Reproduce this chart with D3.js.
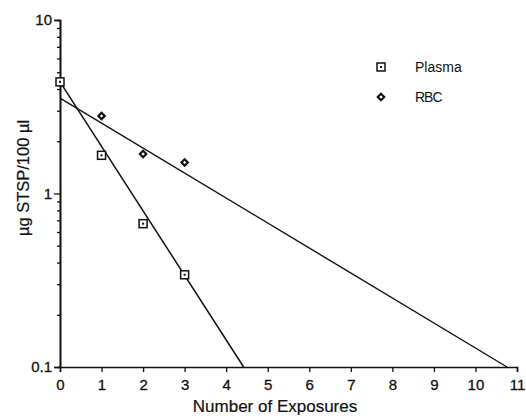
<!DOCTYPE html>
<html>
<head>
<meta charset="utf-8">
<script src="https://cdn.jsdelivr.net/npm/d3@7"></script>
<style>
  body { margin: 0; background: #fff; }
  text { font-family: "Liberation Sans", Arial, sans-serif; fill: #111; }
</style>
</head>
<body>
<svg id="chart" width="526" height="416"></svg>
<script>
// data
const exposures = [0, 1, 2, 3];
const plasma = [4.4, 1.66, 0.67, 0.34];
const rbcX = [1, 2, 3];
const rbc = [2.8, 1.69, 1.51];
// regression lines (endpoints)
const plasmaFit = [[0, 4.4], [4.42, 0.1]];
const rbcFit = [[0, 3.55], [10.76, 0.1]];
const xTicks = [0, 1, 2, 3, 4, 5, 6, 7, 8, 9, 10, 11];
const yTicks = [0.1, 1, 10];

const svg = d3.select('#chart');
const m_left = 60, m_right = 517, m_top = 20, m_bottom = 367;

const x = d3.scaleLinear().domain([0, 11]).range([m_left, m_right]);
const y = d3.scaleLog().domain([0.1, 10]).range([m_bottom, m_top]);

// axes
const xAxis = d3.axisBottom(x).tickValues(xTicks).tickSize(5).tickPadding(7).tickFormat(d3.format('d'));
svg.append('g').attr('transform', 'translate(0,' + m_bottom + ')').call(xAxis);

let minor = [];
for (let dec of [0.1, 1]) for (let k = 2; k <= 9; k++) minor.push(dec * k);
svg.append('g').attr('transform', 'translate(' + m_left + ',0)')
    .call(d3.axisLeft(y).tickValues(minor).tickSize(3).tickFormat(''));
svg.append('g').attr('transform', 'translate(' + m_left + ',0)')
    .call(d3.axisLeft(y).tickValues(yTicks).tickSize(6).tickPadding(2).tickFormat(d => d));

svg.selectAll('.domain').attr('stroke', '#111').attr('stroke-width', 1.6);
svg.selectAll('.tick line').attr('stroke', '#111').attr('stroke-width', 1.3);
svg.selectAll('.tick text').attr('font-size', 15).attr('fill', '#111')
    .attr('stroke', '#111').attr('stroke-width', 0.3)
    .attr('font-family', '"Liberation Sans", Arial, sans-serif');

// fit lines
const line = d3.line().x(d => x(d[0])).y(d => y(d[1]));
svg.append('path').attr('d', line(plasmaFit)).attr('fill', 'none').attr('stroke', '#111').attr('stroke-width', 1.5);
svg.append('path').attr('d', line(rbcFit)).attr('fill', 'none').attr('stroke', '#111').attr('stroke-width', 1.4);

// markers
function square(g, cx, cy) {
    g.append('rect').attr('x', cx - 4).attr('y', cy - 4).attr('width', 8).attr('height', 8)
        .attr('fill', '#fff').attr('stroke', '#111').attr('stroke-width', 1.5);
    g.append('rect').attr('x', cx - 1).attr('y', cy - 1).attr('width', 2).attr('height', 2).attr('fill', '#111');
}
function diamond(g, cx, cy) {
    g.append('path').attr('d', d3.symbol(d3.symbolDiamond2, 26)())
        .attr('transform', 'translate(' + cx + ',' + cy + ')')
        .attr('fill', '#fff').attr('stroke', '#111').attr('stroke-width', 2.2);
}
const pts = svg.append('g');
exposures.forEach((e, i) => square(pts, x(e), y(plasma[i])));
rbcX.forEach((e, i) => diamond(pts, x(e), y(rbc[i])));

// legend
square(svg, 381, 67);
svg.append('text').attr('x', 415).attr('y', 72).attr('font-size', 14).text('Plasma');
diamond(svg, 381, 97);
svg.append('text').attr('x', 415).attr('y', 102).attr('font-size', 14).attr('letter-spacing', -1).text('RBC');

// axis titles
svg.append('text').attr('x', 275).attr('y', 412).attr('text-anchor', 'middle').attr('font-size', 17)
    .attr('stroke', '#111').attr('stroke-width', 0.2)
    .text('Number of Exposures');
svg.append('text').attr('transform', 'translate(29,178) rotate(-90)').attr('text-anchor', 'middle')
    .attr('font-size', 16.5).attr('stroke', '#111').attr('stroke-width', 0.2).text('µg STSP/100 µl');
</script>
</body>
</html>
